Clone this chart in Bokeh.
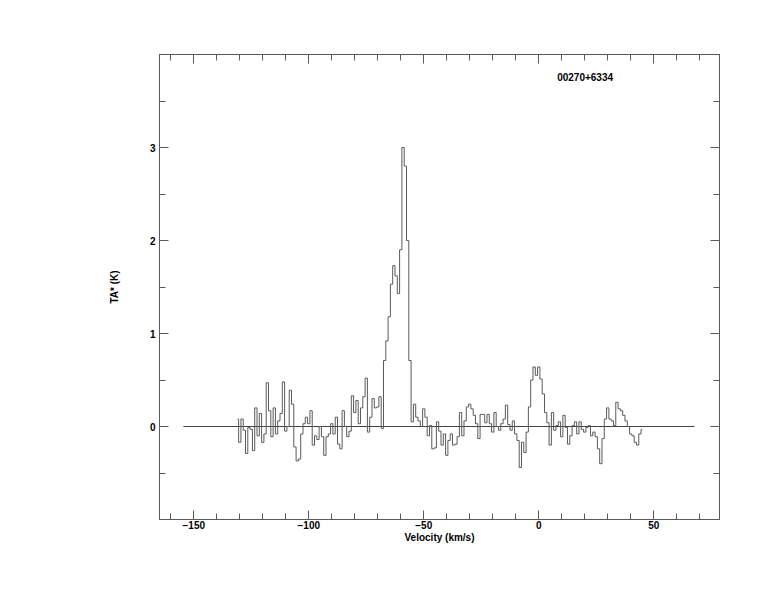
from bokeh.plotting import figure
from bokeh.models import LinearAxis, SingleIntervalTicker, FixedTicker, Range1d, Label
from bokeh.embed import file_html
from bokeh.resources import INLINE

# Spectrum: channel velocities start and 1 km/s spacing, antenna temperature TA* (K)
v_start = -131.0
v_step = 1.0
ta = [
    0.08, -0.17, 0.08, -0.04, -0.29, -0.01, -0.03, -0.26, 0.20, -0.10,   # -131 .. -122
    0.14, -0.17, -0.08, 0.47, 0.17, -0.11, 0.20, -0.08, 0.06, 0.14,     # -121 .. -112
    0.48, -0.05, 0.00, 0.39, 0.24, -0.22, -0.37, -0.35, -0.08, 0.03,    # -111 .. -102
    0.10, 0.03, 0.17, -0.20, -0.10, -0.14, 0.00, -0.11, -0.31, -0.11,   # -101 .. -92
    -0.08, 0.03, -0.08, 0.10, -0.19, -0.24, 0.17, 0.00, -0.11, -0.05,   # -91 .. -82
    0.33, 0.15, 0.28, 0.03, 0.20, 0.32, 0.52, -0.06, 0.10, 0.30,        # -81 .. -72
    0.20, 0.21, 0.32, -0.02, 0.71, 0.92, 1.18, 1.53, 1.73, 1.62,        # -71 .. -62
    1.43, 1.90, 3.00, 2.80, 2.00, 0.71, 0.05, 0.24, 0.10, 0.06,         # -61 .. -52
    0.00, 0.19, 0.10, -0.10, 0.01, -0.24, -0.23, 0.05, -0.05, -0.20,    # -51 .. -42
    -0.08, -0.31, -0.15, -0.08, -0.20, -0.19, -0.11, 0.15, -0.10, 0.06, # -41 .. -32
    0.21, 0.24, 0.19, 0.12, 0.03, -0.13, 0.13, 0.13, 0.04, 0.13,        # -31 .. -22
    0.03, -0.06, 0.15, 0.00, -0.04, 0.03, 0.08, 0.23, 0.02, -0.04,      # -21 .. -12
    0.06, -0.08, -0.15, -0.44, -0.17, -0.28, -0.06, 0.21, 0.50, 0.64,   # -11 .. -2
    0.55, 0.64, 0.51, 0.35, 0.15, 0.04, -0.20, 0.15, -0.04, 0.01,       # -1 .. 8
    0.05, -0.11, 0.12, -0.01, -0.19, -0.10, 0.01, 0.05, -0.08, 0.05,    # 9 .. 18
    -0.03, -0.06, -0.01, 0.01, -0.10, -0.06, -0.11, -0.24, -0.40, -0.13,# 19 .. 28
    0.08, 0.20, 0.08, 0.06, 0.01, 0.26, 0.19, 0.17, 0.12, 0.06,         # 29 .. 38
    0.00, -0.08, -0.10, -0.17, -0.20, -0.08, -0.03,                     # 39 .. 45
]
velocity = [v_start + i * v_step for i in range(len(ta))]

baseline_v = [-154.5, 67.7]
baseline_t = [0.0, 0.0]

x_range = (-164.9, 78.6)
y_range = (-1.0, 4.0)
y_major = [0, 1, 2, 3]
y_minor = [-0.5, 0.5, 1.5, 2.5, 3.5]
title_text = "00270+6334"
x_label = "Velocity (km/s)"
y_label = "TA* (K)"

GRAY = "#5a5a5a"
FONT = "Liberation Sans"

p = figure(width=760, height=596, output_backend="svg", toolbar_location=None,
           x_range=Range1d(*x_range), y_range=Range1d(*y_range),
           x_axis_type=None, y_axis_type=None,
           min_border_left=159, min_border_right=41, min_border_top=54, min_border_bottom=77)
p.background_fill_color = "white"
p.border_fill_color = "white"
p.outline_line_color = GRAY
p.outline_line_width = 1
p.xgrid.visible = False
p.ygrid.visible = False


def style_axis(ax, show_labels):
    ax.axis_line_color = GRAY
    ax.major_tick_line_color = GRAY
    ax.minor_tick_line_color = GRAY
    ax.major_tick_in = 9
    ax.major_tick_out = 0
    ax.minor_tick_in = 6
    ax.minor_tick_out = 0
    ax.major_label_text_font = FONT
    ax.major_label_text_font_style = "bold"
    ax.major_label_text_font_size = "10px"
    ax.major_label_text_color = "black"
    ax.axis_label_text_font = FONT
    ax.axis_label_text_font_style = "bold"
    ax.axis_label_text_font_size = "10px"
    ax.axis_label_text_color = "black"
    if not show_labels:
        ax.major_label_text_font_size = "0px"
        ax.major_label_text_alpha = 0


xb = LinearAxis(ticker=SingleIntervalTicker(interval=50, num_minor_ticks=5), axis_label=x_label)
style_axis(xb, True)
xb.major_label_standoff = 1
xb.axis_label_standoff = 0
p.add_layout(xb, "below")

xt = LinearAxis(ticker=SingleIntervalTicker(interval=50, num_minor_ticks=5))
style_axis(xt, False)
p.add_layout(xt, "above")

yl = LinearAxis(ticker=FixedTicker(ticks=y_major, minor_ticks=y_minor), axis_label=y_label)
style_axis(yl, True)
yl.major_label_standoff = 4
yl.axis_label_standoff = 27
yl.major_label_orientation = "horizontal"
p.add_layout(yl, "left")

yr = LinearAxis(ticker=FixedTicker(ticks=y_major, minor_ticks=y_minor))
style_axis(yr, False)
p.add_layout(yr, "right")

p.line(baseline_v, baseline_t, line_color="#444444", line_width=1)
p.step(velocity, ta, mode="center", line_color=GRAY, line_width=1)

p.add_layout(Label(x=8.0, y=3.76, text=title_text, text_font=FONT, text_font_style="bold",
                   text_font_size="10px", text_color="black", text_baseline="middle",
                   text_align="left"))

open("out.html", "w").write(file_html(p, INLINE))
